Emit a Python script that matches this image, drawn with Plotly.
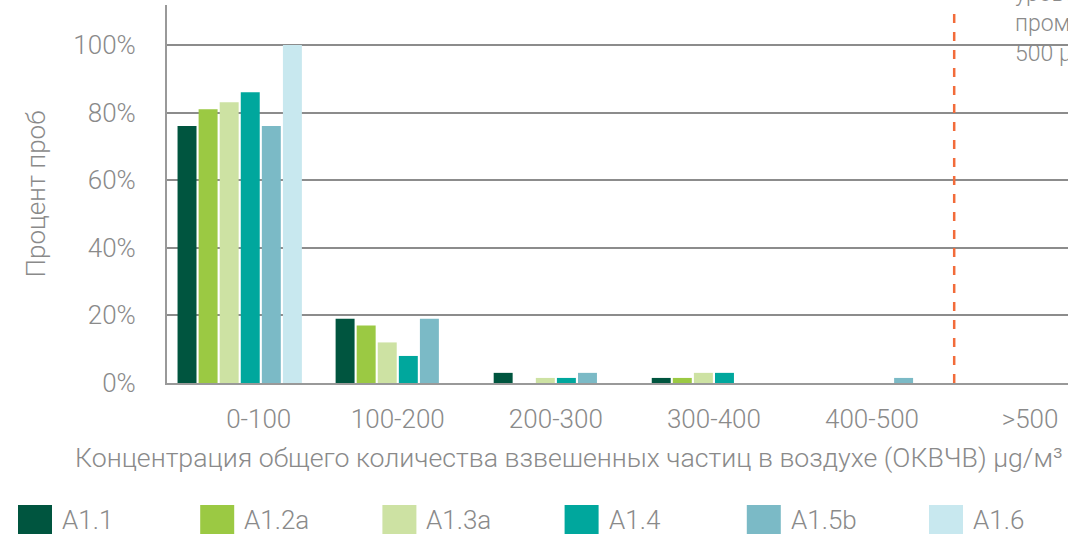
import plotly.graph_objects as go

categories = ["0-100", "100-200", "200-300", "300-400", "400-500", ">500"]
tick_labels = ["\u00a0\u00a0\u00a0\u00a0\u00a0\u00a00-100", "100-200", "200-300", "300-400", "400-500", ">500"]
series_names = ["A1.1", "A1.2a", "A1.3a", "A1.4", "A1.5b", "A1.6"]
series_colors = ["#00553F", "#9BC943", "#CDE2A3", "#00A79D", "#7BBAC6", "#C8E8EF"]
A1_1 = [76, 19, 3, 1.5, 0, 0]
A1_2a = [81, 17, 0, 1.5, 0, 0]
A1_3a = [83, 12, 1.5, 3, 0, 0]
A1_4 = [86, 8, 1.5, 3, 0, 0]
A1_5b = [76, 19, 3, 0, 1.5, 0]
A1_6 = [100, 0, 0, 0, 0, 0]
series_values = [A1_1, A1_2a, A1_3a, A1_4, A1_5b, A1_6]
y_ticks = [0, 20, 40, 60, 80, 100]
y_tick_labels = ["0%", "20%", "40%", "60%", "80%", "100%"]
limit_position = 4.52
limit_text = "уровень для<br>промышленных зон<br>500 µg/м³"

FONT = "Roboto"
GRAY = "#8a8a8a"
L, R, T, B = 167, 1068, 5, 383
PW, PH = R - L, B - T


def px(x):
    return (x - L) / PW


def py(y):
    return (B - y) / PH


fig = go.Figure()
for name, color, vals in zip(series_names, series_colors, series_values):
    fig.add_trace(go.Bar(x=list(range(len(categories))), y=vals, name=name,
                         marker=dict(color=color, line=dict(width=0)),
                         showlegend=False))

fig.add_shape(type="line", xref="x", yref="paper", x0=limit_position, x1=limit_position,
              y0=0, y1=1, line=dict(color="#F26B3A", width=2.5, dash="dash"))

fig.add_annotation(x=px(1013), xref="paper", y=py(24), yref="paper", text=limit_text,
                   showarrow=False, xanchor="left", yanchor="middle", align="left",
                   font=dict(family=FONT, size=23, color=GRAY, weight=300))

# legend drawn manually with large swatches
for i, (name, color) in enumerate(zip(series_names, series_colors)):
    x0 = 18 + i * 182.2
    fig.add_shape(type="rect", xref="paper", yref="paper",
                  x0=px(x0), x1=px(x0 + 34), y0=py(535), y1=py(505),
                  fillcolor=color, line=dict(width=0))
    fig.add_annotation(xref="paper", yref="paper", x=px(x0 + 42), y=py(520),
                       text=name, showarrow=False, xanchor="left", yanchor="middle",
                       font=dict(family=FONT, size=26, color=GRAY, weight=300))

fig.add_annotation(xref="paper", yref="paper", x=px(73), y=py(458),
                   text="Концентрация общего количества взвешенных частиц в воздухе (ОКВЧВ) µg/м³",
                   showarrow=False, xanchor="left", yanchor="middle",
                   font=dict(family=FONT, size=26.7, color=GRAY, weight=300))

fig.update_layout(
    width=1068, height=534,
    margin=dict(l=L, r=0, t=T, b=534 - B),
    paper_bgcolor="white", plot_bgcolor="white",
    barmode="group", bargap=0.2, bargroupgap=0.1,
    font=dict(family=FONT, color=GRAY, size=26, weight=300),
    xaxis=dict(range=[-0.46, 5.24], tickmode="array", tickvals=list(range(len(categories))),
               ticktext=tick_labels, showgrid=False, showline=True, linecolor="#999999",
               linewidth=2, ticks="outside", ticklen=12, tickcolor="rgba(0,0,0,0)",
               tickfont=dict(size=26, color=GRAY), zeroline=False),
    yaxis=dict(range=[0, 111.8], tickmode="array", tickvals=y_ticks, ticktext=y_tick_labels,
               showgrid=True, gridcolor="#8c8c8c", gridwidth=1.5, showline=True,
               linecolor="#999999", linewidth=2, ticks="outside", ticklen=24,
               tickcolor="rgba(0,0,0,0)", tickfont=dict(size=26, color=GRAY),
               zeroline=False,
               title=dict(text="Процент проб", font=dict(size=26, color=GRAY), standoff=20)),
)

fig.write_html("out.html", config={"displayModeBar": False},
               post_script="document.body.style.margin='0';document.body.style.overflow='hidden';")
